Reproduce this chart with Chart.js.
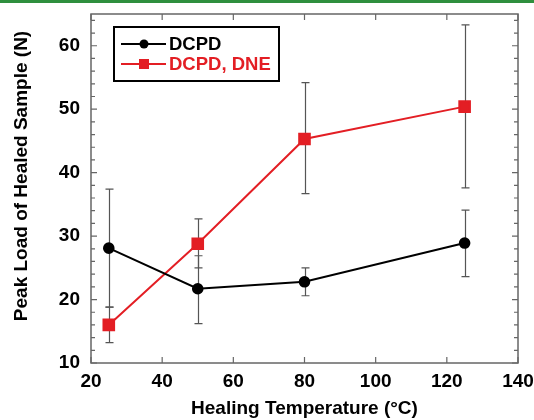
<!DOCTYPE html>
<html>
<head>
<meta charset="utf-8">
<script src="https://cdn.jsdelivr.net/npm/chart.js@4"></script>
<style>
html, body { margin: 0; padding: 0; background: #fff; }
.wrap { position: relative; width: 534px; height: 420px; }
.topline { position: absolute; left: 0; top: 0; width: 534px; height: 3px; background: #2f8f3e; }
</style>
</head>
<body>
<div class="wrap">
  <div class="topline"></div>
  <canvas id="chr" width="534" height="420"></canvas>
</div>
<script>
// data
const temps = [25, 50, 80, 125];
const dcpd = [28.1, 21.7, 22.8, 28.9];
const dcpdLow = [18.8, 16.2, 20.6, 23.6];
const dcpdHigh = [37.4, 26.9, 25.0, 34.1];
const dne = [16.0, 28.8, 45.3, 50.4];
const dneLow = [13.2, 25.0, 36.7, 37.6];
const dneHigh = [18.8, 32.7, 54.2, 63.3];
const xTicks = [20, 40, 60, 80, 100, 120, 140];
const yTicks = [10, 20, 30, 40, 50, 60];
const yMinor = [12, 14, 16, 18, 22, 24, 26, 28, 32, 34, 36, 38, 42, 44, 46, 48, 52, 54, 56, 58, 62, 64];

const red = '#e31e24';
const fam = '"Liberation Sans", Arial, sans-serif';

// error bars, drawn under the lines
const errBars = {
  id: 'errBars',
  beforeDatasetsDraw(chart) {
    const ctx = chart.ctx, xs = chart.scales.x, ys = chart.scales.y;
    ctx.save();
    ctx.strokeStyle = '#555';
    ctx.lineWidth = 1.2;
    [[dcpdLow, dcpdHigh], [dneLow, dneHigh]].forEach(([lo, hi]) => {
      temps.forEach((t, i) => {
        const px = Math.round(xs.getPixelForValue(t)) + 0.5;
        const a = ys.getPixelForValue(lo[i]), b = ys.getPixelForValue(hi[i]);
        ctx.beginPath();
        ctx.moveTo(px, a); ctx.lineTo(px, b);
        ctx.moveTo(px - 4, a); ctx.lineTo(px + 4, a);
        ctx.moveTo(px - 4, b); ctx.lineTo(px + 4, b);
        ctx.stroke();
      });
    });
    ctx.restore();
  }
};

// frame + inward ticks + y title
const frame = {
  id: 'frame',
  beforeDatasetsDraw(chart) {
    const ctx = chart.ctx, a = chart.chartArea, xs = chart.scales.x, ys = chart.scales.y;
    ctx.save();
    ctx.strokeStyle = '#666';
    ctx.lineWidth = 1.5;
    ctx.strokeRect(a.left, a.top, a.right - a.left, a.bottom - a.top);
    ctx.lineWidth = 1.2;
    ctx.beginPath();
    xTicks.forEach(v => {
      const px = xs.getPixelForValue(v);
      ctx.moveTo(px, a.bottom); ctx.lineTo(px, a.bottom - 6);
      ctx.moveTo(px, a.top); ctx.lineTo(px, a.top + 6);
    });
    yTicks.forEach(v => {
      const py = ys.getPixelForValue(v);
      ctx.moveTo(a.left, py); ctx.lineTo(a.left + 6, py);
      ctx.moveTo(a.right, py); ctx.lineTo(a.right - 6, py);
    });
    yMinor.forEach(v => {
      const py = ys.getPixelForValue(v);
      ctx.moveTo(a.left, py); ctx.lineTo(a.left + 4, py);
      ctx.moveTo(a.right, py); ctx.lineTo(a.right - 4, py);
    });
    ctx.stroke();

    ctx.translate(22, 176);
    ctx.rotate(-Math.PI / 2);
    ctx.fillStyle = '#000';
    ctx.font = 'bold 19px ' + fam;
    ctx.textAlign = 'center';
    ctx.textBaseline = 'middle';
    ctx.fillText('Peak Load of Healed Sample (N)', 0, 0);
    ctx.restore();
  }
};

// boxed legend in the upper left
const boxLegend = {
  id: 'boxLegend',
  afterDraw(chart) {
    const ctx = chart.ctx;
    ctx.save();
    ctx.lineWidth = 2;
    ctx.strokeStyle = '#000';
    ctx.strokeRect(114, 27, 165, 54);
    ctx.font = 'bold 18.5px ' + fam;
    ctx.textBaseline = 'middle';
    const rows = [
      { label: 'DCPD', color: '#000', y: 44, sq: false },
      { label: 'DCPD, DNE', color: red, y: 64, sq: true }
    ];
    rows.forEach(r => {
      ctx.strokeStyle = r.color;
      ctx.fillStyle = r.color;
      ctx.lineWidth = 2;
      ctx.beginPath();
      ctx.moveTo(121, r.y); ctx.lineTo(166, r.y);
      ctx.stroke();
      ctx.beginPath();
      if (r.sq) ctx.rect(139, r.y - 5, 10, 10);
      else ctx.arc(144, r.y, 4.5, 0, Math.PI * 2);
      ctx.fill();
      ctx.fillText(r.label, 169, r.y + 1);
    });
    ctx.restore();
  }
};

const ct = document.getElementById('chr');
new Chart(ct, {
  type: 'line',
  data: {
    datasets: [
      {
        label: 'DCPD',
        data: temps.map((t, i) => ({ x: t, y: dcpd[i] })),
        borderColor: '#000',
        backgroundColor: '#000',
        borderWidth: 2,
        pointStyle: 'circle',
        pointRadius: 4.8,
        pointHoverRadius: 4.8,
        fill: false
      },
      {
        label: 'DCPD, DNE',
        data: temps.map((t, i) => ({ x: t, y: dne[i] })),
        borderColor: red,
        backgroundColor: red,
        borderWidth: 2,
        pointStyle: 'rect',
        pointRadius: 7.5,
        pointHoverRadius: 7.5,
        fill: false
      }
    ]
  },
  options: {
    responsive: false,
    animation: false,
    layout: { padding: { top: 14, right: 16, left: 0, bottom: 0 } },
    scales: {
      x: {
        type: 'linear',
        min: 20,
        max: 140,
        afterBuildTicks: s => { s.ticks = xTicks.map(v => ({ value: v })); },
        afterFit: s => { s.height = 57; s.paddingLeft = 0; s.paddingRight = 0; },
        grid: { display: false, drawTicks: false },
        border: { display: false },
        ticks: { color: '#000', font: { family: fam, size: 19, weight: 'bold' }, padding: 7, maxRotation: 0 },
        title: {
          display: true,
          text: 'Healing Temperature (°C)',
          color: '#000',
          font: { family: fam, size: 19, weight: 'bold' },
          padding: { top: 1, bottom: 0 }
        }
      },
      y: {
        min: 10,
        max: 65,
        afterBuildTicks: s => { s.ticks = yTicks.map(v => ({ value: v })); },
        afterFit: s => { s.width = 91; s.paddingTop = 0; s.paddingBottom = 0; },
        grid: { display: false, drawTicks: false },
        border: { display: false },
        ticks: { color: '#000', font: { family: fam, size: 19, weight: 'bold' }, padding: 11 },
        title: { display: false }
      }
    },
    plugins: {
      legend: { display: false },
      tooltip: { enabled: false }
    }
  },
  plugins: [frame, errBars, boxLegend]
});
</script>
</body>
</html>
